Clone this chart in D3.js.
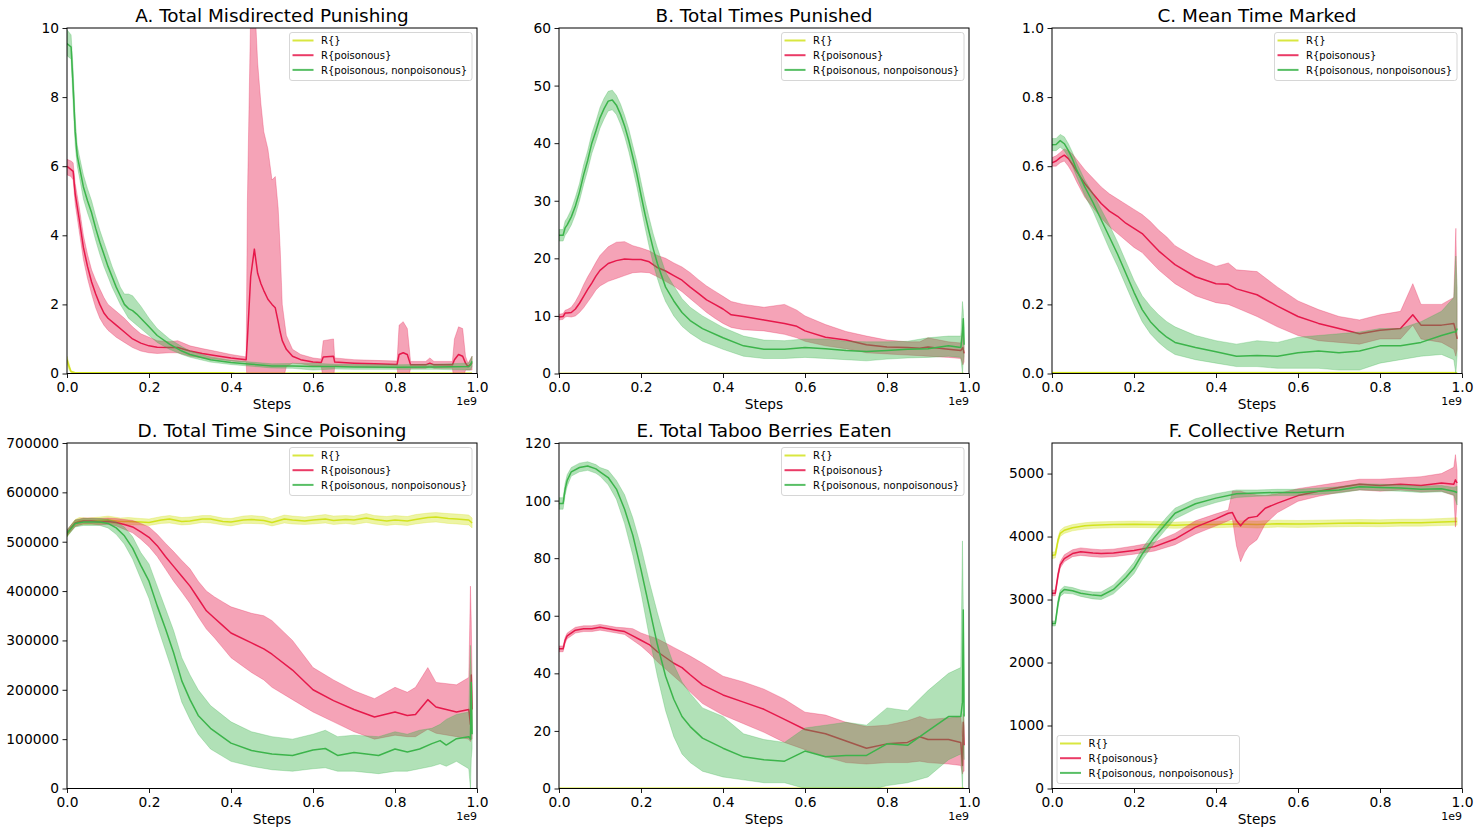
<!DOCTYPE html>
<html>
<head>
<meta charset="utf-8">
<script src="https://cdn.jsdelivr.net/npm/d3@7"></script>
<style>
    body { margin: 0; background: #fff; }
    svg { font-family: "DejaVu Sans", sans-serif; }
</style>
</head>
<body>
<div id="chart"></div>
<script>
// Rows are [steps (1e9), lower band, mean, upper band]

// A. Total Misdirected Punishing
const misEmpty = [[0,0.3,0.4,0.5],[0.005,0.1,0.2,0.3],[0.01,0.02,0.05,0.08],[0.02,0.01,0.02,0.03],[0.4,0.01,0.02,0.03],[0.41,0,0.01,0.02],[0.988,0,0.01,0.02]];
const misPois = [[0,5.75,6.0,6.2],[0.01,5.7,5.9,6.15],[0.015,5.6,5.85,6.1],[0.02,4.9,5.2,5.5],[0.03,4.1,4.45,4.8],[0.04,3.3,3.65,4.0],[0.05,2.75,3.1,3.45],[0.06,2.3,2.65,3.0],[0.07,1.9,2.3,2.7],[0.08,1.6,2.0,2.45],[0.09,1.4,1.75,2.2],[0.1,1.25,1.6,2.0],[0.12,1.05,1.4,1.8],[0.14,0.9,1.2,1.6],[0.16,0.75,1.0,1.35],[0.18,0.65,0.88,1.15],[0.2,0.6,0.8,1.05],[0.22,0.58,0.76,0.95],[0.25,0.6,0.75,0.92],[0.27,0.6,0.75,0.95],[0.3,0.5,0.65,0.8],[0.33,0.45,0.58,0.72],[0.36,0.42,0.52,0.65],[0.4,0.36,0.45,0.55],[0.437,0.33,0.4,0.48],[0.44,-0.5,1.0,5.0],[0.448,-0.5,2.8,10.5],[0.457,-0.5,3.6,11],[0.465,-0.5,2.9,9.0],[0.473,-0.5,2.6,7.8],[0.48,-0.5,2.4,7.0],[0.49,-0.5,2.15,6.5],[0.5,-0.5,2.0,5.6],[0.508,-0.5,1.9,5.7],[0.515,-0.5,1.5,4.8],[0.52,-0.5,1.2,3.6],[0.525,-0.3,0.95,2.0],[0.535,0.2,0.7,1.1],[0.55,0.3,0.5,0.7],[0.57,0.28,0.4,0.55],[0.6,0.22,0.33,0.45],[0.62,0.22,0.32,0.42],[0.625,-0.2,0.48,0.95],[0.65,-0.2,0.5,1.0],[0.653,0.22,0.33,0.45],[0.7,0.2,0.3,0.4],[0.75,0.18,0.28,0.38],[0.805,0.16,0.26,0.36],[0.81,-0.3,0.55,1.4],[0.82,-0.3,0.6,1.5],[0.83,-0.3,0.55,1.3],[0.838,0.15,0.25,0.35],[0.875,0.15,0.25,0.35],[0.885,0.2,0.3,0.45],[0.895,0.15,0.25,0.35],[0.94,0.15,0.25,0.35],[0.945,-0.3,0.4,1.0],[0.955,-0.3,0.55,1.35],[0.965,-0.2,0.5,1.3],[0.972,0.1,0.3,0.5],[0.978,0.1,0.2,0.3],[0.988,0.1,0.3,0.5]];
const misBoth = [[0,9.2,9.55,9.95],[0.01,9.1,9.45,9.8],[0.015,7.8,8.3,8.8],[0.02,6.6,7.0,7.4],[0.025,6.0,6.3,6.6],[0.03,5.7,6.0,6.3],[0.04,5.05,5.4,5.75],[0.05,4.65,5.0,5.35],[0.06,4.3,4.65,5.0],[0.07,3.85,4.2,4.55],[0.08,3.45,3.8,4.15],[0.09,3.1,3.45,3.8],[0.1,2.8,3.1,3.45],[0.11,2.5,2.8,3.1],[0.12,2.25,2.5,2.8],[0.13,2.0,2.25,2.5],[0.14,1.8,2.0,2.3],[0.15,1.6,1.88,2.3],[0.16,1.5,1.82,2.25],[0.17,1.4,1.72,2.1],[0.18,1.3,1.6,1.95],[0.2,1.1,1.35,1.6],[0.22,0.9,1.1,1.3],[0.25,0.7,0.85,1.0],[0.28,0.55,0.65,0.78],[0.3,0.47,0.55,0.65],[0.35,0.33,0.4,0.48],[0.4,0.26,0.32,0.38],[0.45,0.21,0.27,0.33],[0.5,0.16,0.22,0.28],[0.55,0.15,0.22,0.29],[0.6,0.1,0.2,0.3],[0.65,0.13,0.2,0.27],[0.7,0.12,0.19,0.26],[0.8,0.12,0.18,0.25],[0.9,0.12,0.19,0.27],[0.98,0.1,0.2,0.3],[0.984,0.1,0.25,0.4],[0.988,0.2,0.35,0.5]];

// B. Total Times Punished
const punEmpty = [[0,0,0,0.05],[0.988,0,0,0.05]];
const punPois = [[0,9.3,9.8,10.3],[0.01,9.4,9.9,10.4],[0.015,9.8,10.5,11],[0.02,9.9,10.5,11.1],[0.03,9.8,10.6,11.5],[0.04,10.0,11.2,12.5],[0.05,10.6,12.2,13.8],[0.06,11.4,13.4,15.4],[0.07,12.4,14.6,16.8],[0.08,13.4,15.7,18.0],[0.09,14.5,16.9,19.3],[0.1,15.2,17.9,20.5],[0.12,16.0,19.1,22.0],[0.14,16.5,19.6,22.8],[0.16,17.0,19.9,22.9],[0.18,17.5,19.8,22.2],[0.2,17.6,19.8,21.8],[0.22,17.5,19.4,21.3],[0.24,16.8,18.4,20.5],[0.26,16.0,17.8,20.0],[0.28,15.2,17.0,19.2],[0.3,14.2,16.2,18.5],[0.32,13.0,15.0,17.5],[0.34,11.8,13.9,16.3],[0.36,10.6,12.8,15.2],[0.38,9.6,12.0,14.3],[0.4,8.7,11.2,13.4],[0.42,8.0,10.2,12.5],[0.45,7.6,9.9,12.0],[0.5,7.4,9.3,11.5],[0.55,6.8,8.7,12.0],[0.58,6.2,8.2,11.0],[0.6,5.6,7.4,10.0],[0.65,4.8,6.3,8.5],[0.7,4.3,5.8,7.3],[0.75,3.6,5.0,6.5],[0.8,3.4,4.6,5.8],[0.85,3.2,4.5,5.5],[0.88,3.1,4.4,5.5],[0.9,3.0,4.6,6.2],[0.95,2.8,4.2,5.5],[0.98,2.6,4.0,5.3],[0.985,1.5,4.5,8.0],[0.988,2.0,3.5,5.0]];
const punBoth = [[0,23,24,25],[0.01,23,24,25],[0.015,24,25.3,26.5],[0.02,24.5,25.8,27],[0.03,25.8,27.2,28.5],[0.04,27.6,29.1,30.6],[0.05,30.0,31.5,33.0],[0.06,32.8,34.5,36.2],[0.07,35.3,37.0,38.7],[0.08,38.2,40.0,41.7],[0.09,40.3,42.1,43.8],[0.1,42.6,44.4,46.2],[0.11,44.2,46.0,47.8],[0.12,45.6,47.3,49.0],[0.13,45.8,47.5,49.2],[0.14,45.0,46.6,48.3],[0.15,43.3,45.0,46.8],[0.16,41.2,43.0,44.8],[0.17,38.6,40.5,42.5],[0.18,35.6,37.6,39.6],[0.19,32.4,34.6,36.8],[0.2,28.8,31.0,33.3],[0.21,25.3,27.6,30.0],[0.22,22.0,24.5,27.0],[0.23,19.0,21.6,24.2],[0.24,16.5,19.1,21.8],[0.25,14.3,17.0,19.7],[0.26,12.5,15.0,17.6],[0.28,10.0,12.6,15.2],[0.3,8.2,10.6,13.0],[0.32,7.0,9.2,11.5],[0.35,5.6,7.8,10.0],[0.4,4.2,6.2,8.0],[0.45,3.0,4.8,6.5],[0.5,2.6,4.2,5.8],[0.55,2.6,4.2,5.7],[0.6,2.8,4.5,6.0],[0.65,2.6,4.3,6.0],[0.7,2.4,4.0,5.6],[0.75,2.2,3.8,5.5],[0.8,2.5,4.0,5.5],[0.85,2.7,4.2,5.6],[0.9,2.8,4.3,6.2],[0.95,3.0,4.8,6.5],[0.98,2.8,4.5,6.5],[0.984,0,7.0,12.5],[0.986,2.0,9.5,11],[0.988,3.0,5.0,8.0]];

// C. Mean Time Marked
const markEmpty = [[0,0,0.002,0.004],[0.988,0,0.002,0.004]];
const markPois = [[0,0.6,0.61,0.625],[0.01,0.6,0.615,0.63],[0.02,0.61,0.625,0.64],[0.03,0.615,0.632,0.65],[0.04,0.6,0.622,0.645],[0.05,0.58,0.605,0.635],[0.06,0.555,0.585,0.62],[0.08,0.51,0.55,0.59],[0.1,0.48,0.52,0.565],[0.12,0.45,0.492,0.54],[0.14,0.425,0.47,0.52],[0.16,0.405,0.455,0.505],[0.18,0.385,0.435,0.49],[0.2,0.365,0.42,0.475],[0.22,0.35,0.405,0.46],[0.24,0.325,0.38,0.44],[0.26,0.3,0.355,0.415],[0.28,0.28,0.335,0.395],[0.3,0.26,0.315,0.37],[0.35,0.225,0.28,0.335],[0.4,0.205,0.26,0.31],[0.43,0.2,0.258,0.32],[0.45,0.19,0.245,0.3],[0.5,0.165,0.228,0.295],[0.55,0.135,0.195,0.25],[0.6,0.11,0.165,0.21],[0.65,0.095,0.145,0.185],[0.7,0.09,0.13,0.165],[0.75,0.085,0.115,0.155],[0.8,0.1,0.125,0.17],[0.85,0.1,0.13,0.18],[0.88,0.14,0.17,0.26],[0.9,0.1,0.14,0.2],[0.95,0.09,0.14,0.2],[0.98,0.07,0.145,0.22],[0.985,0.05,0.12,0.42],[0.988,0.07,0.1,0.2]];
const markBoth = [[0,0.645,0.662,0.68],[0.01,0.645,0.663,0.68],[0.02,0.655,0.674,0.692],[0.03,0.645,0.665,0.685],[0.04,0.625,0.645,0.665],[0.05,0.6,0.62,0.64],[0.06,0.57,0.59,0.61],[0.08,0.515,0.54,0.56],[0.1,0.47,0.495,0.52],[0.12,0.415,0.445,0.475],[0.14,0.36,0.395,0.43],[0.16,0.31,0.345,0.38],[0.18,0.255,0.29,0.325],[0.2,0.2,0.235,0.27],[0.22,0.15,0.185,0.225],[0.24,0.115,0.15,0.195],[0.26,0.09,0.125,0.17],[0.28,0.07,0.105,0.15],[0.3,0.055,0.09,0.135],[0.35,0.04,0.075,0.11],[0.4,0.03,0.063,0.095],[0.45,0.02,0.05,0.085],[0.5,0.02,0.052,0.095],[0.55,0.015,0.05,0.09],[0.6,0.015,0.06,0.105],[0.65,0.015,0.065,0.11],[0.7,0.01,0.06,0.115],[0.75,0.01,0.065,0.12],[0.8,0.03,0.08,0.13],[0.85,0.04,0.08,0.13],[0.9,0.05,0.09,0.15],[0.95,0.055,0.11,0.18],[0.98,0.04,0.12,0.22],[0.985,0.0,0.12,0.34],[0.988,0.05,0.13,0.25]];

// D. Total Time Since Poisoning
const sinceEmpty = [[0,510000,515000,520000],[0.01,522000,528000,534000],[0.02,532000,538000,545000],[0.03,535000,542000,549000],[0.05,535000,541000,548000],[0.08,536000,543000,550000],[0.1,537000,544000,552000],[0.13,535000,541000,548000],[0.15,534000,541000,549000],[0.18,534000,540000,547000],[0.2,533000,539000,546000],[0.23,537000,544000,551000],[0.25,538000,546000,553000],[0.28,534000,541000,549000],[0.3,535000,542000,550000],[0.33,539000,546000,553000],[0.35,538000,546000,553000],[0.38,534000,541000,548000],[0.4,532000,540000,547000],[0.43,537000,544000,552000],[0.45,537000,545000,553000],[0.48,536000,543000,551000],[0.5,532000,539000,546000],[0.53,538000,546000,554000],[0.55,536000,544000,552000],[0.58,535000,542000,550000],[0.6,536000,544000,552000],[0.63,538000,546000,555000],[0.65,535000,543000,552000],[0.68,537000,545000,553000],[0.7,535000,544000,552000],[0.73,539000,548000,557000],[0.75,536000,545000,553000],[0.78,533000,542000,551000],[0.8,535000,544000,553000],[0.83,533000,542000,551000],[0.85,536000,545000,555000],[0.88,539000,549000,558000],[0.9,540000,550000,559000],[0.93,537000,547000,557000],[0.95,536000,546000,556000],[0.98,534000,544000,554000],[0.988,528000,538000,548000]];
const sincePois = [[0,512000,518000,524000],[0.02,531000,538000,544000],[0.04,536000,542000,548000],[0.06,536000,542000,548000],[0.08,534000,540000,547000],[0.1,535000,541000,548000],[0.12,532000,539000,547000],[0.14,525000,535000,545000],[0.16,518000,530000,543000],[0.18,505000,520000,537000],[0.2,490000,509000,530000],[0.22,470000,492000,515000],[0.24,445000,470000,497000],[0.26,420000,450000,480000],[0.28,398000,430000,462000],[0.3,375000,410000,445000],[0.32,348000,385000,420000],[0.34,323000,360000,400000],[0.36,305000,345000,388000],[0.38,285000,330000,378000],[0.4,265000,315000,368000],[0.45,235000,295000,355000],[0.48,220000,283000,350000],[0.5,205000,272000,340000],[0.55,180000,240000,300000],[0.6,155000,200000,245000],[0.65,135000,178000,220000],[0.7,115000,160000,198000],[0.75,100000,145000,182000],[0.8,108000,155000,205000],[0.83,105000,148000,195000],[0.85,105000,150000,205000],[0.88,120000,180000,245000],[0.9,112000,165000,215000],[0.95,105000,155000,210000],[0.98,100000,160000,225000],[0.984,95000,130000,410000],[0.986,100000,230000,340000],[0.988,100000,160000,220000]];
const sinceBoth = [[0,510000,517000,524000],[0.02,530000,537000,544000],[0.04,533000,540000,547000],[0.06,533000,540000,547000],[0.08,533000,540000,547000],[0.1,528000,537000,545000],[0.12,515000,528000,540000],[0.14,495000,512000,530000],[0.16,465000,487000,510000],[0.18,425000,452000,478000],[0.2,385000,420000,455000],[0.22,330000,370000,410000],[0.24,280000,324000,365000],[0.26,230000,275000,320000],[0.28,175000,218000,265000],[0.3,140000,180000,230000],[0.32,110000,148000,200000],[0.35,80000,122000,168000],[0.4,55000,92000,135000],[0.45,45000,77000,115000],[0.5,38000,70000,105000],[0.55,35000,67000,100000],[0.6,40000,78000,110000],[0.63,42000,81000,118000],[0.66,35000,67000,105000],[0.7,35000,73000,108000],[0.76,30000,67000,105000],[0.8,35000,80000,115000],[0.83,35000,74000,110000],[0.86,40000,80000,118000],[0.89,45000,91000,122000],[0.91,50000,97000,130000],[0.925,45000,88000,140000],[0.95,55000,101000,150000],[0.98,40000,105000,155000],[0.984,0,100000,290000],[0.986,60000,215000,240000],[0.988,80000,110000,140000]];

// E. Total Taboo Berries Eaten
const berryEmpty = [[0,0,0,0.3],[0.988,0,0,0.3]];
const berryPois = [[0,47.5,48.5,49.5],[0.01,47.5,48.5,49.5],[0.015,50.5,51.5,52.5],[0.02,52,53,54],[0.04,54,55,56],[0.06,54.5,55.5,56.5],[0.08,54.5,55.5,56.5],[0.1,55,56,57],[0.12,54.5,55.5,56.5],[0.14,54,55,56],[0.16,53.5,54.5,55.8],[0.18,51.5,53,55.5],[0.2,49.5,51.5,54],[0.22,47,50,53],[0.24,44,47.5,52],[0.26,41.5,45.5,50.5],[0.28,39,43.5,49],[0.3,36.5,42,47.5],[0.32,33.5,39.5,46],[0.35,29.5,36,43.5],[0.4,25.5,32.5,39],[0.45,22.5,30,37],[0.5,19.5,27.5,34.5],[0.55,16,24,31],[0.6,13.5,20.5,26.5],[0.65,11,19,25.5],[0.7,9,16.5,23],[0.75,8.5,14,21.5],[0.8,9,15.5,22],[0.85,9,16,23.5],[0.88,9.5,18,25],[0.9,9,17,24],[0.95,8.5,17,24.5],[0.98,8,16,25],[0.984,5,8,18],[0.986,6,23,26],[0.988,6,15,22]];
const berryBoth = [[0,97,99,101],[0.01,97,99,101],[0.015,102,104,106],[0.02,105,107,109],[0.03,108.5,110,111.5],[0.05,110,111.5,113],[0.07,110.5,112,113.5],[0.09,109.5,111,112.5],[0.1,108.5,110,111.5],[0.12,105.5,108,110.5],[0.14,100.5,104,107],[0.16,92,97,102],[0.18,81,88,94],[0.2,68,76,84],[0.22,53,63,72],[0.24,39,50,61],[0.26,27,39,51],[0.28,18,31,43],[0.3,12,25,37],[0.32,9,21.5,33],[0.35,6,17.5,28],[0.4,4,14,25],[0.45,3,11,19],[0.5,2,10,17],[0.55,2,9.5,16],[0.6,0,13,21],[0.65,-1,11,22],[0.7,-1,11.5,23],[0.75,-1,11.5,22],[0.8,1,15.5,28],[0.85,2,15,27],[0.9,4,20,34],[0.95,10,25,40],[0.98,12,25,42],[0.984,0,30,86],[0.986,15,62,64],[0.988,10,25,35]];

// F. Collective Return
const returnEmpty = [[0,3650,3700,3750],[0.008,3660,3710,3760],[0.015,3900,3950,4000],[0.02,4000,4050,4100],[0.03,4050,4100,4150],[0.05,4090,4140,4190],[0.08,4120,4170,4220],[0.1,4130,4180,4230],[0.15,4140,4190,4240],[0.2,4145,4195,4245],[0.25,4140,4190,4240],[0.3,4130,4180,4230],[0.35,4140,4190,4240],[0.4,4140,4190,4240],[0.45,4150,4200,4250],[0.5,4135,4190,4245],[0.55,4150,4205,4260],[0.6,4145,4200,4255],[0.65,4150,4205,4260],[0.7,4155,4210,4265],[0.75,4160,4215,4270],[0.8,4155,4210,4265],[0.85,4165,4220,4275],[0.9,4165,4220,4275],[0.95,4175,4230,4285],[0.988,4180,4240,4300]];
const returnPois = [[0,3060,3100,3150],[0.008,3060,3100,3150],[0.015,3350,3400,3450],[0.02,3500,3550,3600],[0.03,3600,3650,3710],[0.05,3680,3730,3790],[0.07,3700,3760,3820],[0.1,3680,3740,3800],[0.12,3670,3730,3790],[0.15,3680,3740,3800],[0.2,3720,3780,3850],[0.25,3770,3840,3910],[0.3,3870,3960,4050],[0.35,4040,4150,4250],[0.4,4170,4280,4360],[0.43,4250,4370,4420],[0.44,4280,4380,4720],[0.45,3850,4250,4720],[0.46,3600,4170,4720],[0.47,3750,4250,4700],[0.48,3850,4300,4680],[0.5,3950,4320,4660],[0.52,4200,4450,4650],[0.55,4380,4530,4680],[0.6,4560,4650,4760],[0.65,4640,4720,4810],[0.7,4700,4780,4860],[0.75,4740,4830,4910],[0.8,4720,4810,4910],[0.85,4740,4830,4930],[0.9,4710,4810,4950],[0.95,4720,4850,5000],[0.98,4650,4830,5100],[0.984,4150,4900,5300],[0.988,4600,4850,5050]];
const returnBoth = [[0,2580,2620,2660],[0.008,2580,2620,2660],[0.015,2890,2950,3010],[0.02,3050,3100,3150],[0.03,3100,3160,3210],[0.05,3090,3140,3190],[0.07,3050,3100,3150],[0.1,3010,3070,3120],[0.12,3000,3060,3120],[0.15,3090,3160,3230],[0.18,3270,3350,3430],[0.2,3410,3500,3590],[0.22,3630,3720,3810],[0.25,3900,3990,4080],[0.28,4130,4220,4310],[0.3,4280,4370,4450],[0.35,4440,4520,4600],[0.4,4540,4610,4680],[0.45,4620,4680,4740],[0.5,4640,4690,4740],[0.55,4650,4700,4750],[0.6,4650,4700,4750],[0.65,4670,4720,4770],[0.7,4690,4740,4790],[0.75,4740,4790,4840],[0.8,4730,4780,4830],[0.85,4720,4770,4820],[0.9,4700,4750,4800],[0.95,4710,4760,4810],[0.98,4660,4720,4780],[0.988,4500,4700,4800]];

// Legend names, colours, ticks
const seriesNames = ["R{}", "R{poisonous}", "R{poisonous, nonpoisonous}"];
const seriesColors = ["#d2e31e", "#e6194b", "#3cb44b"];
const xTicks = [0, 0.2, 0.4, 0.6, 0.8, 1.0];
const misTicks = [0, 2, 4, 6, 8, 10];
const punTicks = [0, 10, 20, 30, 40, 50, 60];
const markTicks = [0, 0.2, 0.4, 0.6, 0.8, 1.0];
const sinceTicks = [0, 100000, 200000, 300000, 400000, 500000, 600000, 700000];
const berryTicks = [0, 20, 40, 60, 80, 100, 120];
const returnTicks = [0, 1000, 2000, 3000, 4000, 5000];

const panels = [
    { title: "A. Total Misdirected Punishing", yMax: 10, ticks: misTicks, fmt: "d", series: [misEmpty, misPois, misBoth], legend: "top" },
    { title: "B. Total Times Punished", yMax: 60, ticks: punTicks, fmt: "d", series: [punEmpty, punPois, punBoth], legend: "top" },
    { title: "C. Mean Time Marked", yMax: 1, ticks: markTicks, fmt: ".1f", series: [markEmpty, markPois, markBoth], legend: "top" },
    { title: "D. Total Time Since Poisoning", yMax: 700000, ticks: sinceTicks, fmt: "d", series: [sinceEmpty, sincePois, sinceBoth], legend: "top" },
    { title: "E. Total Taboo Berries Eaten", yMax: 120, ticks: berryTicks, fmt: "d", series: [berryEmpty, berryPois, berryBoth], legend: "top" },
    { title: "F. Collective Return", yMax: 5485, ticks: returnTicks, fmt: "d", series: [returnEmpty, returnPois, returnBoth], legend: "bottom" }
];

const width = 1480, height = 834;
const colLeft = [67, 559, 1052];
const rowTop = [28, 443];
const plotW = 410, plotH = 345.5;

let svg = d3
    .select("#chart")
    .append("svg")
    .attr("width", width)
    .attr("height", height);

panels.forEach((p, idx) => {
    let left = colLeft[idx % 3];
    let top = rowTop[Math.floor(idx / 3)];

    let g = svg.append("g").attr("transform", `translate(${left},${top})`);

    let x = d3.scaleLinear().domain([0, 1]).range([0, plotW]);
    let y = d3.scaleLinear().domain([0, p.yMax]).range([plotH, 0]);

    // clip bands/lines to the axes box
    let clipId = "clip" + idx;
    g.append("clipPath")
        .attr("id", clipId)
        .append("rect")
        .attr("width", plotW)
        .attr("height", plotH);

    let plot = g.append("g").attr("clip-path", `url(#${clipId})`);

    let area = d3.area()
        .x(d => x(d[0]))
        .y0(d => y(d[1]))
        .y1(d => y(d[3]));

    let line = d3.line()
        .x(d => x(d[0]))
        .y(d => y(d[2]));

    p.series.forEach((rows, i) => {
        plot.append("path")
            .datum(rows)
            .attr("d", area)
            .attr("fill", seriesColors[i])
            .attr("fill-opacity", 0.4)
            .attr("stroke", seriesColors[i])
            .attr("stroke-opacity", 0.35)
            .attr("stroke-width", 0.8);

        plot.append("path")
            .datum(rows)
            .attr("d", line)
            .attr("fill", "none")
            .attr("stroke", seriesColors[i])
            .attr("stroke-width", 1.5)
            .attr("stroke-linejoin", "round");
    });

    // axes
    let xAxis = g.append("g")
        .attr("transform", `translate(0,${plotH})`)
        .call(d3.axisBottom(x).tickValues(xTicks).tickFormat(d3.format(".1f")).tickSize(4.5).tickPadding(4.5).tickSizeOuter(0));

    let yAxis = g.append("g")
        .call(d3.axisLeft(y).tickValues(p.ticks).tickFormat(d3.format(p.fmt)).tickSize(4.5).tickPadding(3.5).tickSizeOuter(0));

    [xAxis, yAxis].forEach(a => {
        a.select(".domain").remove();
        a.selectAll("line").attr("stroke", "#000").attr("stroke-width", 0.9);
        a.selectAll("text")
            .attr("fill", "#000")
            .style("font-size", "13.8px")
            .style("font-family", "DejaVu Sans");
    });

    // frame
    g.append("rect")
        .attr("width", plotW)
        .attr("height", plotH)
        .attr("fill", "none")
        .attr("stroke", "#000")
        .attr("stroke-width", 1);

    // title and labels
    g.append("text")
        .attr("x", plotW / 2)
        .attr("y", -6.5)
        .attr("text-anchor", "middle")
        .style("font-size", "18.4px")
        .text(p.title);

    g.append("text")
        .attr("x", plotW / 2)
        .attr("y", plotH + 35)
        .attr("text-anchor", "middle")
        .style("font-size", "13.7px")
        .text("Steps");

    g.append("text")
        .attr("x", plotW)
        .attr("y", plotH + 31)
        .attr("text-anchor", "end")
        .style("font-size", "11px")
        .text("1e9");

    // legend
    let leg = g.append("g");
    let box = leg.append("rect")
        .attr("fill", "#fff")
        .attr("fill-opacity", 0.8)
        .attr("stroke", "#ccc")
        .attr("stroke-width", 0.8)
        .attr("rx", 2.5);

    let maxW = 0;
    seriesNames.forEach((name, i) => {
        let cy = 8 + i * 14.7;
        leg.append("line")
            .attr("x1", 3).attr("x2", 24)
            .attr("y1", cy).attr("y2", cy)
            .attr("stroke", seriesColors[i])
            .attr("stroke-width", 2)
            .attr("stroke-opacity", 0.85);
        let t = leg.append("text")
            .attr("x", 31.5)
            .attr("y", cy + 3.6)
            .style("font-size", "10px")
            .text(name);
        maxW = Math.max(maxW, t.node().getComputedTextLength());
    });
    let boxW = 31.5 + maxW + 5, boxH = 48;
    box.attr("width", boxW).attr("height", boxH);

    if (p.legend === "top") {
        leg.attr("transform", `translate(${plotW - 5 - boxW},4.5)`);
    } else {
        leg.attr("transform", `translate(5,${plotH - 5 - boxH})`);
    }
});
</script>
</body>
</html>
